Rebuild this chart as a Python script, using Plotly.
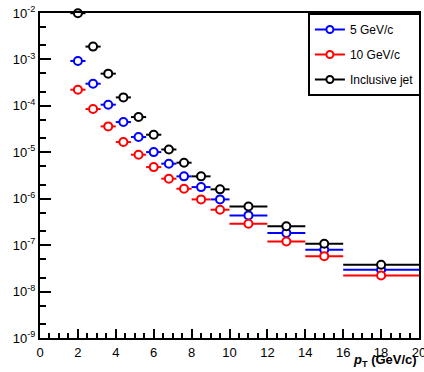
import plotly.graph_objects as go

# Bin layout in pT (GeV/c)
pt_centers = [2.0, 2.8, 3.6, 4.4, 5.2, 6.0, 6.8, 7.6, 8.5, 9.5, 11, 13, 15, 18]
bin_low = [1.6, 2.4, 3.2, 4.0, 4.8, 5.6, 6.4, 7.2, 8.0, 9.0, 10, 12, 14, 16]
bin_high = [2.4, 3.2, 4.0, 4.8, 5.6, 6.4, 7.2, 8.0, 9.0, 10, 12, 14, 16, 20]

# Spectra
inclusive_jet = [9.9e-3, 1.89e-3, 4.94e-4, 1.52e-4, 5.74e-5, 2.39e-5, 1.15e-5,
                 5.97e-6, 3.03e-6, 1.59e-6, 6.8e-7, 2.56e-7, 1.07e-7, 3.78e-8]
gev5 = [9.25e-4, 3.0e-4, 1.06e-4, 4.48e-5, 2.13e-5, 1.01e-5, 5.68e-6,
        3.03e-6, 1.78e-6, 9.66e-7, 4.37e-7, 1.82e-7, 7.96e-8, 2.95e-8]
gev10 = [2.23e-4, 8.53e-5, 3.61e-5, 1.66e-5, 8.87e-6, 4.8e-6, 2.7e-6,
         1.64e-6, 9.66e-7, 5.8e-7, 2.89e-7, 1.2e-7, 5.8e-8, 2.22e-8]

series = [
    ("5 GeV/c", gev5, "#0000ff"),
    ("10 GeV/c", gev10, "#ff0000"),
    ("Inclusive jet", inclusive_jet, "#000000"),
]

y_decades = [-9, -8, -7, -6, -5, -4, -3, -2]
y_tick_vals = [10.0 ** d for d in y_decades]
y_tick_text = [f"10<sup>{d}</sup>" for d in y_decades]
x_tick_vals = [0, 2, 4, 6, 8, 10, 12, 14, 16, 18, 20]

err_plus = [h - c for h, c in zip(bin_high, pt_centers)]
err_minus = [c - l for c, l in zip(pt_centers, bin_low)]

fig = go.Figure()
for name, vals, col in series:
    fig.add_trace(go.Scatter(
        x=pt_centers, y=vals, mode="markers", name=name, showlegend=False,
        cliponaxis=False,
        marker=dict(symbol="circle", size=8, color="white",
                    line=dict(color=col, width=2)),
        error_x=dict(type="data", symmetric=False, array=err_plus,
                     arrayminus=err_minus, color=col, thickness=2, width=0),
    ))
    # legend entry: line through an open circle
    fig.add_trace(go.Scatter(
        x=[None], y=[None], mode="lines+markers", name=name, legendgroup=name,
        line=dict(color=col, width=2),
        marker=dict(symbol="circle", size=7, color="white",
                    line=dict(color=col, width=2)),
    ))

fig.add_annotation(
    text="<b><i>p</i><sub>T</sub> (GeV/c)</b>", xref="paper", yref="paper",
    x=1.0, y=-0.038, xanchor="right", yanchor="top", showarrow=False,
    font=dict(size=13, color="black"),
)

fig.update_layout(
    width=424, height=372,
    margin=dict(l=40, r=5, t=13, b=34, autoexpand=False),
    paper_bgcolor="white", plot_bgcolor="white",
    font=dict(family="Liberation Sans, Arial, sans-serif", size=13, color="black"),
    legend=dict(x=1.005, y=1.0, xanchor="right", yanchor="top",
                bgcolor="white", bordercolor="black", borderwidth=2,
                font=dict(size=12), tracegroupgap=6, itemwidth=30),
    xaxis=dict(range=[0, 20], tickvals=x_tick_vals, ticks="inside", ticklen=9,
               tickwidth=2, tickcolor="black", showgrid=False, zeroline=False,
               showline=True, linecolor="black", linewidth=2, mirror=True,
               automargin=False, ticklabeloverflow="allow", ticklabelstandoff=1,
               minor=dict(dtick=0.5, ticks="inside", ticklen=5, tickwidth=2,
                          tickcolor="black", showgrid=False),
               tickfont=dict(size=13)),
    yaxis=dict(type="log", range=[-9, -2], tickvals=y_tick_vals,
               ticktext=y_tick_text, ticks="inside", ticklen=11, tickwidth=2,
               tickcolor="black", showgrid=False, zeroline=False,
               showline=True, linecolor="black", linewidth=2, mirror=True,
               automargin=False,
               minor=dict(ticks="inside", ticklen=6, tickwidth=2,
                          tickcolor="black", showgrid=False),
               tickfont=dict(size=13)),
)

fig.write_html("out.html")
